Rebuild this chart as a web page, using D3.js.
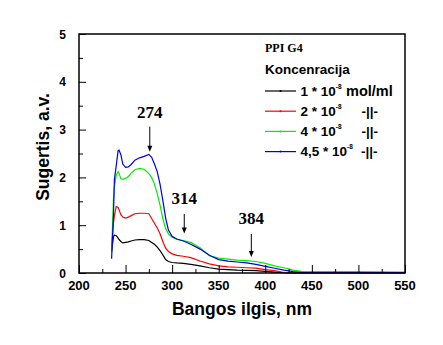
<!DOCTYPE html>
<html><head><meta charset="utf-8">
<script src="https://cdn.jsdelivr.net/npm/d3@7"></script>
<style>body{margin:0;background:#fff}svg{display:block}</style>
</head><body><svg id="c" width="443" height="345"></svg>
<script>
const wavelengths = [235,237,238,240,242,243,245,247,250,253,256,260,265,270,275,278,281,284,287,290,293,296,300,305,312,320,330,340,350,360,370,380,390,400,410,420,430,440,460,500,550];
const black1 = [0.45,0.76,0.79,0.78,0.73,0.70,0.66,0.63,0.64,0.65,0.67,0.69,0.70,0.70,0.68,0.64,0.60,0.54,0.47,0.38,0.28,0.24,0.22,0.21,0.20,0.18,0.15,0.11,0.08,0.07,0.06,0.055,0.05,0.035,0.02,0.005,0,0,0,0,0];
const red2 = [0.55,1.04,1.20,1.39,1.37,1.32,1.22,1.17,1.15,1.17,1.20,1.24,1.25,1.25,1.24,1.14,1.04,0.94,0.82,0.66,0.52,0.45,0.40,0.37,0.35,0.32,0.25,0.19,0.15,0.13,0.12,0.11,0.10,0.07,0.05,0.01,0,0,0,0,0];
const green4 = [0.45,1.55,1.80,2.05,2.12,2.08,1.97,1.96,1.98,2.02,2.09,2.16,2.19,2.17,2.08,2.00,1.86,1.66,1.42,1.14,0.93,0.82,0.75,0.70,0.68,0.64,0.53,0.36,0.31,0.29,0.27,0.26,0.24,0.20,0.15,0.11,0.06,0.03,0.03,0.03,0.02];
const blue45 = [0.30,1.20,1.95,2.25,2.56,2.57,2.47,2.28,2.21,2.22,2.27,2.36,2.41,2.44,2.48,2.42,2.28,2.12,1.86,1.52,1.15,0.90,0.77,0.71,0.67,0.60,0.50,0.37,0.28,0.25,0.23,0.21,0.18,0.14,0.10,0.06,0.03,0.01,0.01,0.01,0.01];
const seriesNames = ["1 * 10", "2 * 10", "4 * 10", "4,5 * 10"];
const seriesSuffix = ["mol/ml", "-||-", "-||-", "-||-"];
const seriesColors = ["#000000","#ff0000","#00ee00","#0000e6"];
const xTicks = [200,250,300,350,400,450,500,550];
const yTicks = [0,1,2,3,4,5];
const peaks = [{label:"274", nm:276, top:126.7, bot:151.7, ty:117.5},{label:"314", nm:313, top:214, bot:233.5, ty:204},{label:"384", nm:385, top:234, bot:257, ty:224}];

const svg = d3.select("#c");
const L=79, R=405, T=34, B=273;
const x = d3.scaleLinear().domain([200,550]).range([L,R]);
const y = d3.scaleLinear().domain([0,5]).range([B,T]);
const data = [black1, red2, green4, blue45];
const SANS = "Liberation Sans, Arial, sans-serif";

// curves
const line = d3.line().x((d,i)=>x(wavelengths[i])).y(d=>y(d));
data.forEach((s,k)=>{
  svg.append("path").attr("d", line(s)).attr("fill","none")
    .attr("stroke", seriesColors[k]).attr("stroke-width",1.2).attr("stroke-linejoin","miter");
});

// frame
svg.append("rect").attr("x",L).attr("y",T).attr("width",R-L).attr("height",B-T)
  .attr("fill","none").attr("stroke","#000").attr("stroke-width",1.5);

// x axis ticks inward
const xa = d3.axisBottom(x).tickValues(d3.range(200,551,25)).tickSize(0).tickFormat("");
const gx = svg.append("g").attr("transform",`translate(0,${B})`).call(xa);
gx.select(".domain").remove();
gx.selectAll(".tick").each(function(d){
  const maj = d%50===0;
  d3.select(this).append("line").attr("y1",0).attr("y2", maj?-8:-4).attr("stroke","#000").attr("stroke-width",1);
});
svg.append("g").selectAll("text").data(xTicks).join("text")
  .attr("x",d=>x(d)).attr("y",289.5).attr("text-anchor","middle")
  .attr("font-family",SANS).attr("font-weight","bold").attr("font-size",13)
  .text(d=>d);

// y axis ticks inward
const ya = d3.axisLeft(y).tickValues(d3.range(0,5.01,0.5)).tickSize(0).tickFormat("");
const gy = svg.append("g").attr("transform",`translate(${L},0)`).call(ya);
gy.select(".domain").remove();
gy.selectAll(".tick").each(function(d){
  const maj = Math.abs(d-Math.round(d))<1e-6;
  d3.select(this).append("line").attr("x1",0).attr("x2", maj?7:4).attr("stroke","#000").attr("stroke-width",1);
});
svg.append("g").selectAll("text").data(yTicks).join("text")
  .attr("x",66).attr("y",d=>y(d)+4.5).attr("text-anchor","end")
  .attr("font-family",SANS).attr("font-weight","bold").attr("font-size",12)
  .text(d=>d);

// axis titles
svg.append("text").attr("x",242).attr("y",315).attr("text-anchor","middle")
  .attr("font-family",SANS).attr("font-weight","bold").attr("font-size",17.5)
  .text("Bangos ilgis, nm");
svg.append("text").attr("transform","translate(49,147) rotate(-90)").attr("text-anchor","middle")
  .attr("font-family",SANS).attr("font-weight","bold").attr("font-size",17.5)
  .text("Sugertis, a.v.");

// peak annotations
peaks.forEach(p=>{
  const px = x(p.nm);
  svg.append("text").attr("x",px).attr("y",p.ty).attr("text-anchor","middle")
    .attr("font-family","Liberation Serif, Times New Roman, serif").attr("font-weight","bold").attr("font-size",17)
    .text(p.label);
  svg.append("line").attr("x1",px).attr("x2",px).attr("y1",p.top).attr("y2",p.bot-4)
    .attr("stroke","#000").attr("stroke-width",1);
  svg.append("path").attr("d",`M${px-2.5},${p.bot-6} L${px+2.5},${p.bot-6} L${px},${p.bot} Z`).attr("fill","#000");
});

// legend
const lg = svg.append("g");
lg.append("text").attr("x",265).attr("y",52).attr("font-family","Liberation Serif, Times New Roman, serif")
  .attr("font-weight","bold").attr("font-size",12).text("PPI G4");
lg.append("text").attr("x",265).attr("y",73.5).attr("font-family",SANS)
  .attr("font-weight","bold").attr("font-size",13.5).text("Koncenracija");
const suffixX = [346, 361.5, 361.5, 361];
seriesNames.forEach((n,k)=>{
  const ly = 91 + k*20.2;
  lg.append("line").attr("x1",265).attr("x2",296).attr("y1",ly).attr("y2",ly).attr("stroke",seriesColors[k]).attr("stroke-width",1.2);
  lg.append("circle").attr("cx",280.5).attr("cy",ly).attr("r",1).attr("fill",seriesColors[k]);
  const t = lg.append("text").attr("x",300.5).attr("y",ly+4.8).attr("font-family",SANS)
    .attr("font-weight","bold").attr("font-size",13.5);
  t.append("tspan").text(n);
  t.append("tspan").attr("font-size",6.5).attr("dy",-7).text("-8");
  lg.append("text").attr("x",suffixX[k]).attr("y",ly+4.8).attr("font-family",SANS)
    .attr("font-weight","bold").attr("font-size",k===0?14.5:13.5).text(seriesSuffix[k]);
});
</script></body></html>
